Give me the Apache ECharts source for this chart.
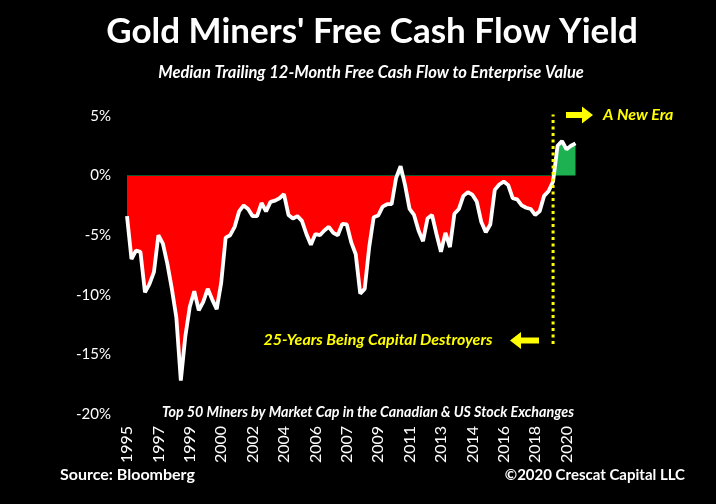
<!DOCTYPE html>
<html>
<head>
<meta charset="utf-8">
<script src="https://cdn.jsdelivr.net/npm/echarts@6/dist/echarts.min.js"></script>
<style>
html,body{margin:0;padding:0;background:#000;}
#c{width:716px;height:504px;}
</style>
</head>
<body>
<div id="c"></div>
<script>
// Quarterly observations starting 1995 Q3
const startYear = 1995, startQuarter = 3;
const tickLabels = ['1995','1997','1999','2000','2002','2004','2006','2007','2009','2011','2013','2014','2016','2018','2020'];
const fcfYield = [
 -3.4, -7.0, -6.3, -6.4, -9.8, -9.1, -8.1, -5.0, -5.7, -7.4,
 -9.5, -11.9, -17.2, -13.5, -11.0, -9.7, -11.3, -10.6, -9.5, -10.4,
 -11.2, -9.0, -5.2, -5.0, -4.3, -3.0, -2.5, -2.8, -3.4, -3.4,
 -2.3, -3.0, -2.2, -2.1, -1.9, -1.55, -3.3, -3.6, -3.4, -3.8,
 -4.9, -5.8, -4.9, -5.0, -4.6, -4.3, -4.8, -5.0, -4.05, -4.1,
 -5.6, -6.6, -9.9, -9.5, -6.0, -3.5, -3.35, -2.6, -2.4, -2.4,
 -0.2, 0.8, -0.8, -2.8, -3.3, -4.6, -5.5, -3.6, -3.3, -4.9,
 -6.4, -4.8, -6.0, -3.2, -2.8, -1.7, -1.4, -1.6, -2.2, -3.9,
 -4.75, -4.1, -1.2, -0.75, -0.5, -0.8, -1.9, -2.0, -2.5, -2.7,
 -2.8, -3.3, -3.0, -1.7, -1.3, -0.5, 2.5, 2.9, 2.2, 2.5,
 2.7
];
const categories = fcfYield.map((v, i) => {
  const q = startQuarter - 1 + i;
  return (startYear + Math.floor(q / 4)) + '-Q' + (q % 4 + 1);
});
const newEraIndex = 95;            // category where the dotted divider sits
const dividerRange = [5.2, -14.3]; // vertical extent of the divider (%)

const FONT = 'Lato, "Open Sans", sans-serif';
const YEL = '#FFFF00';
const chart = echarts.init(document.getElementById('c'), null, {renderer: 'canvas'});
chart.setOption({
  backgroundColor: '#000',
  animation: false,
  grid: {left: 127, right: 140.5, top: 116, bottom: 90},
  xAxis: {
    type: 'category', data: categories, boundaryGap: false,
    axisLine: {show: false}, axisTick: {show: false}, splitLine: {show: false},
    axisLabel: {
      interval: 6, rotate: 90, margin: 12, color: '#fff', fontSize: 16, fontFamily: FONT,
      formatter: (val, idx) => tickLabels[Math.round(idx / 7)] || ''
    }
  },
  yAxis: {
    type: 'value', min: -20, max: 5, interval: 5,
    axisLine: {show: false}, axisTick: {show: false}, splitLine: {show: false},
    axisLabel: {formatter: '{value}%', color: '#fff', fontSize: 15, fontFamily: FONT, margin: 16}
  },
  visualMap: {
    show: false, type: 'piecewise', seriesIndex: 0, dimension: 1,
    pieces: [{gte: -50, lt: 0, color: '#FF0000'}, {gte: 0, lte: 50, color: '#1DB151'}]
  },
  series: [
    {
      type: 'line', data: fcfYield, symbol: 'none', silent: true,
      lineStyle: {width: 0, opacity: 0},
      areaStyle: {opacity: 1, origin: 0},
      z: 1
    },
    {
      type: 'line', data: fcfYield, symbol: 'none', silent: true,
      lineStyle: {width: 3.8, color: '#fff'},
      itemStyle: {color: '#fff'},
      z: 3
    },
    {
      type: 'line', symbol: 'none', silent: true, z: 4,
      data: [[categories[newEraIndex], dividerRange[0]], [categories[newEraIndex], dividerRange[1]]],
      lineStyle: {color: YEL, width: 3, type: [3, 3.5]},
      itemStyle: {color: YEL}
    }
  ],
  graphic: [
    {type: 'text', x: 372, y: 32, style: {text: "Gold Miners' Free Cash Flow Yield", fill: '#fff', font: 'bold 35px ' + FONT, textAlign: 'center', textVerticalAlign: 'middle'}},
    {type: 'text', x: 371, y: 73, style: {text: 'Median Trailing 12-Month Free Cash Flow to Enterprise Value', fill: '#fff', font: 'italic bold 16.5px ' + FONT, textAlign: 'center', textVerticalAlign: 'middle'}},
    {type: 'text', x: 368, y: 412, z: 10, style: {text: 'Top 50 Miners by Market Cap in the Canadian & US Stock Exchanges', fill: '#fff', font: 'italic bold 14.3px ' + FONT, textAlign: 'center', textVerticalAlign: 'middle'}},
    {type: 'text', x: 378, y: 340, style: {text: '25-Years Being Capital Destroyers', fill: YEL, font: 'italic bold 16px ' + FONT, textAlign: 'center', textVerticalAlign: 'middle'}},
    {type: 'text', x: 603, y: 115, style: {text: 'A New Era', fill: YEL, font: 'italic bold 16px ' + FONT, textAlign: 'left', textVerticalAlign: 'middle'}},
    {type: 'polygon', shape: {points: [[566,112],[582,112],[582,106.5],[593,115],[582,123.5],[582,118],[566,118]]}, style: {fill: YEL}},
    {type: 'polygon', shape: {points: [[539,337.5],[521,337.5],[521,332],[510,340.5],[521,349],[521,343.5],[539,343.5]]}, style: {fill: YEL}},
    {type: 'text', x: 60, y: 475, style: {text: 'Source: Bloomberg', fill: '#fff', font: 'bold 16px ' + FONT, textAlign: 'left', textVerticalAlign: 'middle'}},
    {type: 'text', x: 685, y: 475, style: {text: '\u00A92020 Crescat Capital LLC', fill: '#fff', font: 'bold 15px ' + FONT, textAlign: 'right', textVerticalAlign: 'middle'}}
  ]
});
</script>
</body>
</html>
